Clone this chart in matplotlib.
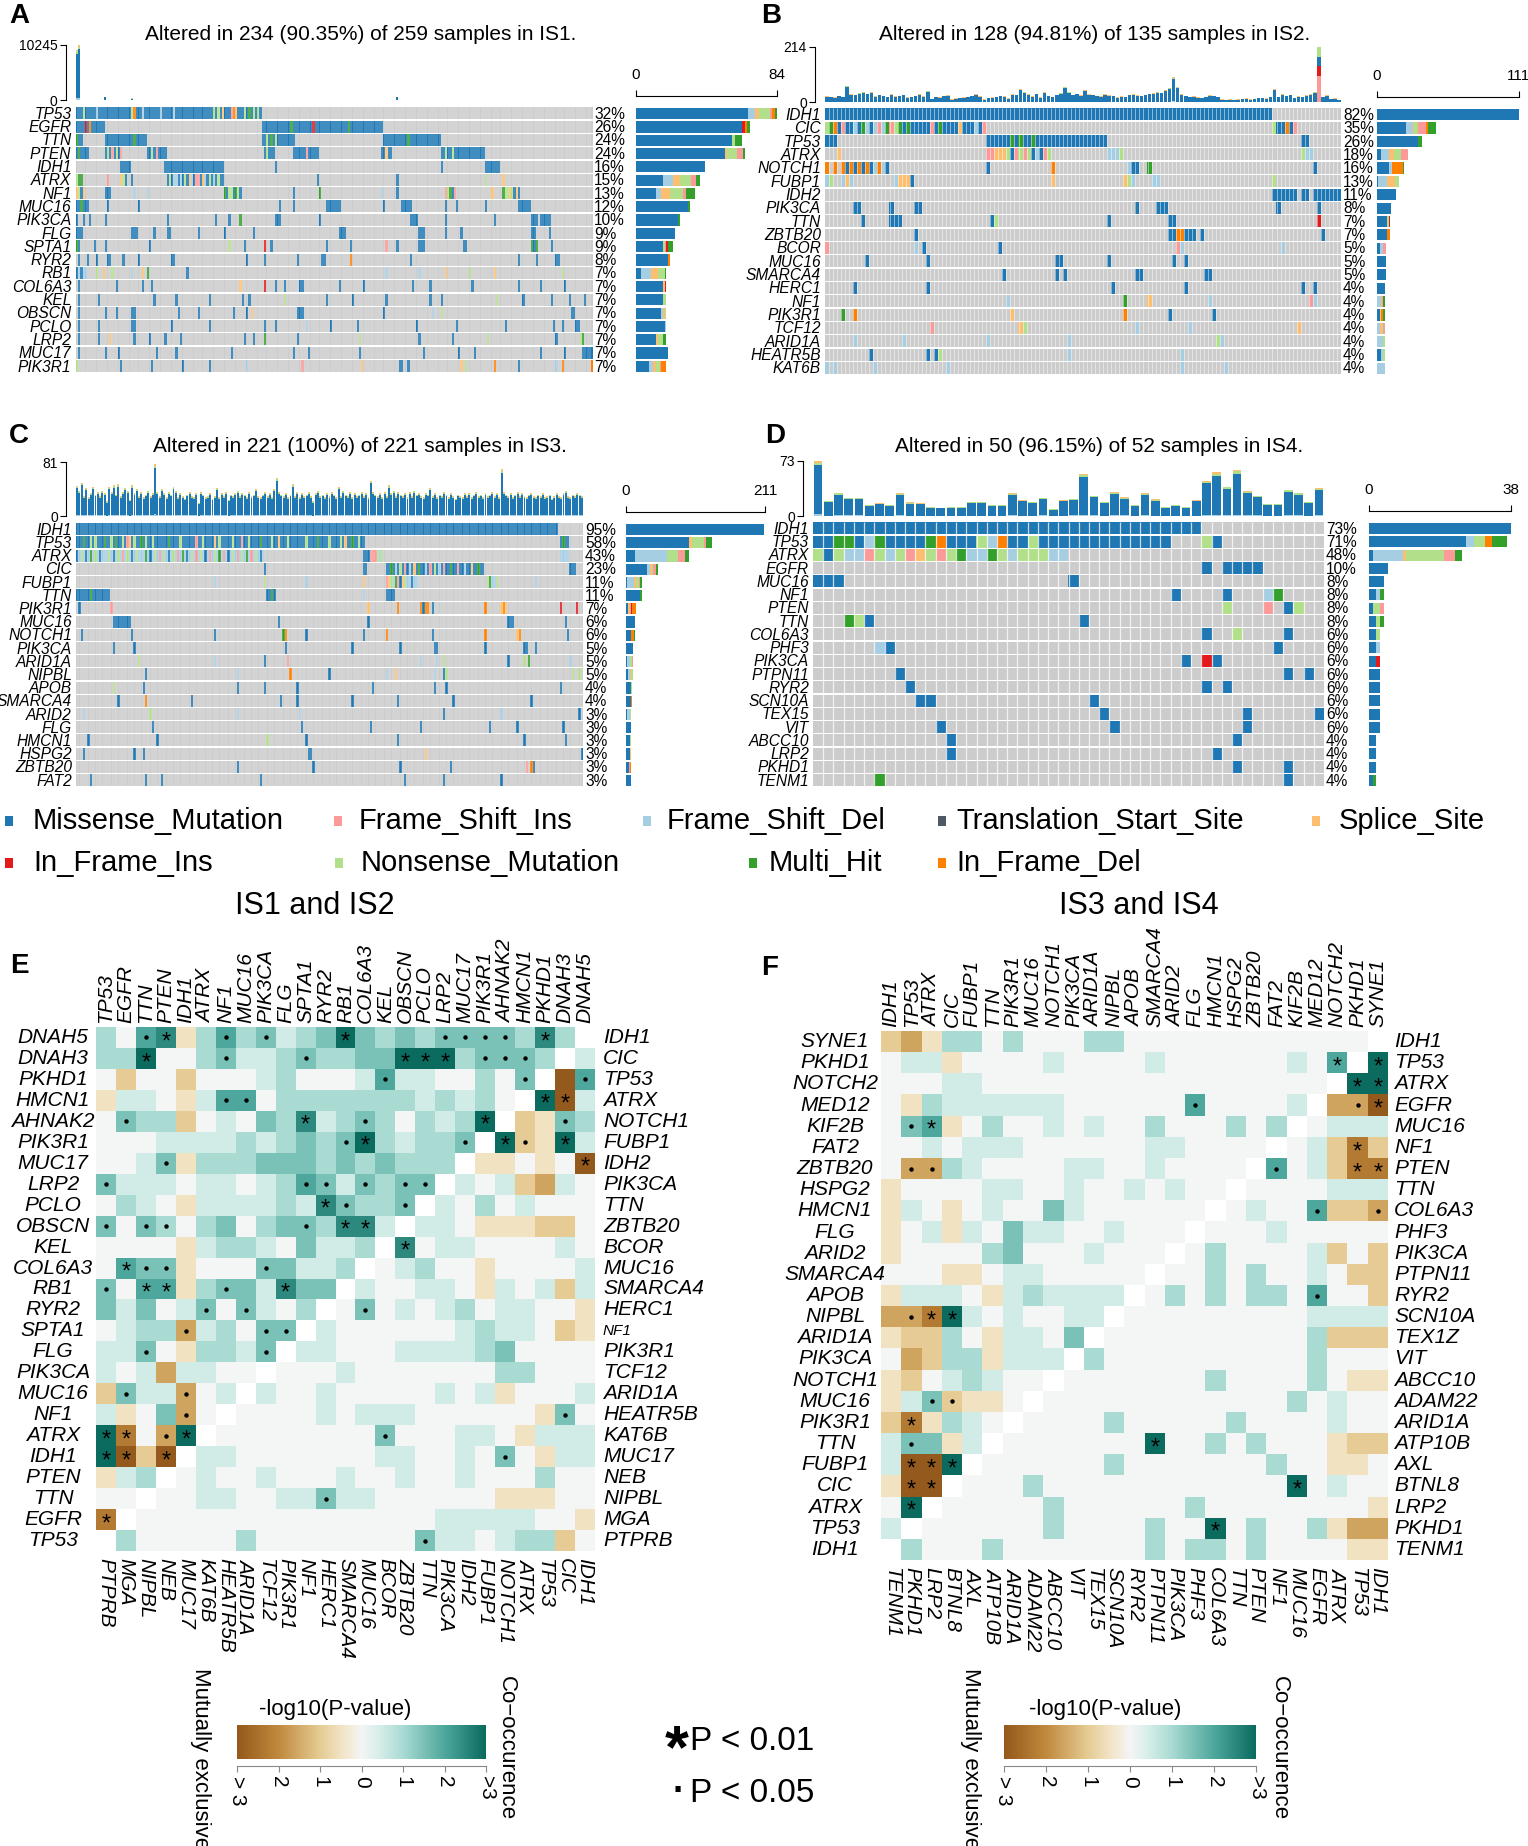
import re
import numpy as np
import matplotlib
matplotlib.use("Agg")
import matplotlib.pyplot as plt
from matplotlib import font_manager
from matplotlib.colors import ListedColormap, LinearSegmentedColormap
from matplotlib.patches import Rectangle
from matplotlib.transforms import offset_copy

plt.rcParams['font.family'] = ['Liberation Sans', 'DejaVu Sans']
try:
    font_manager.findfont(font_manager.FontProperties(family='Liberation Sans Narrow'),
                          fallback_to_default=False)
    LAB_FAMILY, LAB_SIZE, PCT_SIZE = ['Liberation Sans Narrow', 'Liberation Sans'], 13, 13
except Exception:
    LAB_FAMILY, LAB_SIZE, PCT_SIZE = ['Liberation Sans', 'DejaVu Sans'], 11.2, 11.2

# ---------------------------------------------------------------- data
TYPES = {'M': ('Missense_Mutation', '#1F78B4'), 'I': ('Frame_Shift_Ins', '#FB9A99'),
         'D': ('Frame_Shift_Del', '#A6CEE3'), 'T': ('Translation_Start_Site', '#4F5966'),
         'S': ('Splice_Site', '#FDBF6F'), 'N': ('In_Frame_Ins', '#E31A1C'),
         'X': ('Nonsense_Mutation', '#B2DF8A'), 'H': ('Multi_Hit', '#33A02C'),
         'F': ('In_Frame_Del', '#FF7F00')}
CODES = ['M', 'D', 'S', 'X', 'I', 'N', 'F', 'T', 'H']
GREY = '#CCCCCC'

# ---- panel A (IS1)
A_genes = ['TP53', 'EGFR', 'TTN', 'PTEN', 'IDH1', 'ATRX', 'NF1', 'MUC16', 'PIK3CA', 'FLG',
           'SPTA1', 'RYR2', 'RB1', 'COL6A3', 'KEL', 'OBSCN', 'PCLO', 'LRP2', 'MUC17', 'PIK3R1']
A_pct = [32, 26, 24, 24, 16, 15, 13, 12, 10, 9, 9, 8, 7, 7, 7, 7, 7, 7, 7, 7]
A_n = 234
A_events = {
    'TP53': "0-83M 3X 9D 25X 26F 30D 38D 44D 62X 64X 66S 70I 71F 72S 76X 78H 80X 82X",
    'EGFR': "0-12M 4N 6F 84-138M 97H 107N 123H",
    'TTN': "0-2M 0H 13-31M 26H 84-98M 86X 88H 90X 139-164M 150H",
    'PTEN': "0-5M 1H 13-20M 14X 16I 18X 20I 32-40M 34X 36I 85-89M 86X 98-109M 104I 138-142M 140S 165-184M 167X 170X",
    'IDH1': "20-24M 40-66M 90M 165M 185-191M",
    'ATRX': "0-2H 0X 14I 20S 21X 22M 25M 41-66M 42X 44D 45D 47D 49X 51S 52D 54I 55I 57S 58D 60X 62D 64X 109M 145M 185X 193S",
    'NF1': "0S 1X 2M 3S 13-15M 26D 32D 67H 68M 69X 70X 71M 72H 73X 74M 98M 110H 138D 145M 167I 168X 169H 170M 171I 188S 193H 194X 195X 196S 197X 198M 199S 200M",
    'MUC16': "0-5M 2H 14M 28M 92M 98M 113-119M 139M 147-151M 167M 172M 185M 200-205M",
    'PIK3CA': "0M 3M 6M 13M 41M 63M 69M 74H 90-92M 110M 151-154M 167M 189M 206-208M 210-214M",
    'FLG': "0-2M 25-27M 35M 41-42M 55M 67M 80M 119-121M 155-157M 167M 174M 206-207M 214M",
    'SPTA1': "0H 1M 8M 13M 33M 69X 76M 85N 88M 113M 124M 140I 145M 155-157M 175-176M 206H 207M 208H 215M",
    'RYR2': "1M 5M 9M 14-15M 21M 28M 43-44M 77M 85M 100M 111-112M 124F 151M 200M 208M 217-218M",
    'RB1': "0-4D 0M 2M 9X 12S 16X 25D 30S 32H 50M 140D 155D 167S 178X 189S 220X",
    'COL6A3': "1M 18M 30M 34M 74S 85N 90M 94M 101-102M 119M 130M 152M 160M 179M 200M 210M 221M",
    'KEL': "1M 10M 35M 45M 60M 75M 78M 94X 113M 125M 140M 160M 165M 190X 202M 215M 223M 230M",
    'OBSCN': "1M 13M 18M 25-26M 46M 55M 71M 77M 79S 100-102M 139M 161D 165X 224-225M",
    'PCLO': "1M 10M 25-26M 43M 60M 85M 90M 104D 115M 127M 154M 172M 194M 216M 220M 226-227M",
    'LRP2': "1M 10M 15S 26M 33M 40M 47M 76M 80M 85H 100M 128X 155M 170M 186X 217M 228X 229H",
    'MUC17': "1M 13M 19M 36M 45M 70M 98M 105M 128M 157M 173M 180M 210M 221M 229-233M",
    'PIK3R1': "0X 20M 34M 48M 60M 77D 102I 129S 146-147M 150M 174S 176X 189F 200M 217D 220F 233F",
}
A_tmb_peaks = {0: 9400, 1: 10245, 13: 520, 25: 300, 85: 90, 107: 80, 145: 520}
A_tmb_typical = 40
A_tmb = [A_tmb_peaks.get(i, A_tmb_typical) for i in range(A_n)]

# ---- panel B (IS2)
B_genes = ['IDH1', 'CIC', 'TP53', 'ATRX', 'NOTCH1', 'FUBP1', 'IDH2', 'PIK3CA', 'TTN', 'ZBTB20',
           'BCOR', 'MUC16', 'SMARCA4', 'HERC1', 'NF1', 'PIK3R1', 'TCF12', 'ARID1A', 'HEATR5B', 'KAT6B']
B_pct = [82, 35, 26, 18, 16, 13, 11, 8, 7, 7, 5, 5, 5, 4, 4, 4, 4, 4, 4, 4]
B_n = 128
B_events = {
    'IDH1': "0-110M",
    'CIC': "0X 1H 2F 3M 4I 5M 6M 7D 8M 9H 10D 11M 12D 13I 14D 15H 16I 17X 18H 19M 20H 21-25M 26I 27M 28H 29-32M 33S 34-36M 37D 38M 39I 111X 112M 113M 114F 115M 116I",
    'TP53': "0-2M 40-69M 46H 48H 51H 118-119M",
    'ATRX': "3S 40I 41I 42S 43S 44S 45X 46M 47I 48X 49I 50X 51M 52D 53M 54I 55X 70D 71D 72D 73X 118X 119D 120D",
    'NOTCH1': "0F 2F 4F 5M 6F 7M 8F 9M 10F 11M 12D 13F 14D 15M 40M 56F 75D 76M 77M 80H 121M",
    'FUBP1': "0D 1X 4D 5S 6D 17D 18S 19S 20S 21M 56S 74S 75X 76D 81D 82D 111X",
    'IDH2': "111-116M 118-119M 121-127M",
    'PIK3CA': "7-8M 16M 22-23M 77M 82-84M 112M 122M",
    'TTN': "9M 16-18M 41M 42X 70M 85-86M 122N",
    'ZBTB20': "22M 85M 86M 87F 88F 89-90M 91M 93M 123M",
    'BCOR': "0I 22D 24M 43M 87I 88D 113D",
    'MUC16': "10M 25M 57-58M 70M 86M 89M",
    'SMARCA4': "44M 57M 59M 77-78M 94-95M",
    'HERC1': "7M 25M 71M 89M 118M 121M",
    'NF1': "45D 74H 80S 95D 120I 121D",
    'PIK3R1': "4H 7F 46S 74F 85M 96M",
    'TCF12': "26I 48S 49X 77D 90D 117S",
    'ARID1A': "7D 19D 40D 60D 97X 98D",
    'HEATR5B': "11M 25M 27M 28X 60D 88D",
    'KAT6B': "0D 2D 12D 30D 88D 99D",
}
B_tmb = [22, 20, 18, 25, 20, 63, 30, 28, 35, 40,
         32, 38, 22, 28, 25, 20, 30, 22, 25, 28,
         18, 20, 24, 30, 22, 43, 12, 20, 18, 24,
         26, 10, 14, 16, 18, 20, 25, 30, 22, 10,
         15, 18, 20, 24, 22, 14, 30, 28, 50, 40,
         30, 22, 32, 18, 38, 24, 20, 28, 35, 59,
         40, 28, 32, 26, 45, 30, 28, 25, 22, 30,
         26, 24, 18, 22, 20, 28, 30, 26, 24, 28,
         32, 34, 40, 36, 45, 55, 98, 60, 30, 25,
         20, 22, 18, 15, 20, 26, 24, 20, 10, 8,
         10, 9, 10, 12, 14, 10, 12, 15, 16, 14,
         20, 50, 20, 30, 25, 28, 16, 22, 20, 26,
         30, 40, 214, 20, 26, 12, 14, 8]
B_tmb_special = {122: [('I', 102), ('N', 40), ('M', 33), ('X', 39)]}

# ---- panel C (IS3)
C_genes = ['IDH1', 'TP53', 'ATRX', 'CIC', 'FUBP1', 'TTN', 'PIK3R1', 'MUC16', 'NOTCH1', 'PIK3CA',
           'ARID1A', 'NIPBL', 'APOB', 'SMARCA4', 'ARID2', 'FLG', 'HMCN1', 'HSPG2', 'ZBTB20', 'FAT2']
C_pct = [95, 58, 43, 23, 11, 11, 7, 6, 6, 5, 5, 5, 4, 4, 3, 3, 3, 3, 3, 3]
C_n = 221
C_events = {
    'IDH1': "0-209M",
    'TP53': "0-125M 3H 6X 8X 12H 15X 17H 20X 22I 23S 25X 28H 30X 33X 40H 45X 52I 55X 60S 62X 68X 72I 75X 80H 85X 88S 92X 100X 105H 110X 115X 117S 120H 123X 211-214M 212H",
    'ATRX': "0-81D 0M 2X 4M 6H 8X 10M 12D 14X 16M 18X 20I 22X 24M 26X 30H 32M 34X 36I 38X 40M 42X 44I 46H 48M 50X 52I 54X 56M 58I 60X 62H 64I 66M 68X 70I 72X 74H 76I 78X 80M 125-127M 128I 129I 130I 131X 132D 133X 211-214D",
    'CIC': "82M 125-126M 135-177M 137H 139D 141X 143I 145D 147S 149H 152D 154I 156X 158D 160I 163H 166I 169D 172S 175H 215-217M",
    'FUBP1': "60D 82X 100D 125S 135I 136S 137X 138D 139H 140I 141M 142S 143X 144D 145D 146M 147D 148D 179X 180H 181D 182D 183X 200D",
    'TTN': "0-14M 6H 83-86M 85H 125D 135-138M",
    'PIK3R1': "1M 15I 127S 140F 150F 151M 152F 153F 155M 178F 185S 186F 187S 211N 218N",
    'MUC16': "16-23M 88M 127M 188-190M 213M",
    'NOTCH1': "2M 24M 60M 90H 91F 100M 125M 135F 155M 178F 192S 193F 214M",
    'PIK3CA': "16M 25M 91M 120M 141M 156-157M 178M 195M 196M 200M",
    'ARID1A': "27X 60D 82M 92I 150D 157D 160X 188M 195X 197H 215D",
    'NIPBL': "30M 70D 93F 110M 135D 139S 156D 160M 161X 216X 219X",
    'APOB': "16X 29M 70M 82M 96M 129M 156M 161M 211M",
    'SMARCA4': "18M 30F 50M 89M 96M 120M 140M 164M 198M",
    'ARID2': "3D 32X 70D 97D 160M 185D 219M",
    'FLG': "33M 98M 128M 150M 180M 192M 212M",
    'HMCN1': "5M 35M 83X 100M 140M 195M 213M",
    'HSPG2': "3M 25M 29M 101-102M 152S 220M",
    'ZBTB20': "70M 103M 141M 163M 196I 198F 199M",
    'FAT2': "6M 30M 37M 80M 143M 160M 185M",
}
C_tmb = [45, 38, 50, 30, 42, 28, 35, 44, 32, 36,
         30, 38, 34, 22, 44, 36, 46, 32, 48, 30,
         36, 42, 38, 24, 46, 34, 40, 30, 36, 28,
         32, 38, 30, 34, 78, 36, 30, 40, 34, 28,
         36, 32, 44, 38, 28, 34, 30, 26, 32, 36,
         30, 28, 34, 20, 36, 32, 28, 30, 34, 26,
         30, 42, 28, 34, 30, 36, 24, 32, 30, 34,
         38, 30, 34, 32, 28, 36, 30, 32, 40, 30,
         28, 32, 36, 30, 34, 28, 40, 57, 36, 32,
         30, 34, 28, 32, 48, 30, 36, 28, 34, 30,
         32, 36, 30, 22, 34, 38, 30, 32, 28, 34,
         30, 36, 32, 28, 44, 30, 38, 32, 30, 36,
         28, 34, 30, 32, 36, 30, 34, 28, 53, 36,
         32, 30, 34, 28, 36, 30, 46, 34, 38, 30,
         36, 32, 30, 34, 28, 36, 30, 38, 32, 34,
         30, 28, 34, 32, 42, 30, 34, 28, 32, 30,
         36, 32, 28, 34, 30, 26, 32, 30, 28, 34,
         30, 34, 28, 32, 36, 30, 32, 28, 34, 30,
         32, 36, 30, 34, 28, 70, 36, 32, 30, 34,
         28, 32, 36, 30, 34, 30, 28, 32, 34, 30,
         28, 32, 30, 34, 28, 30, 32, 26, 30, 34,
         30, 28, 34, 38, 30, 28, 32, 30, 34, 32,
         30]

# ---- panel D (IS4)
D_genes = ['IDH1', 'TP53', 'ATRX', 'EGFR', 'MUC16', 'NF1', 'PTEN', 'TTN', 'COL6A3', 'PHF3',
           'PIK3CA', 'PTPN11', 'RYR2', 'SCN10A', 'TEX15', 'VIT', 'ABCC10', 'LRP2', 'PKHD1', 'TENM1']
D_pct = [73, 71, 48, 10, 8, 8, 8, 8, 6, 6, 6, 6, 6, 6, 6, 6, 4, 4, 4, 4]
D_n = 50
D_events = {
    'IDH1': "0-37M",
    'TP53': "0-34M 2H 3H 5D 6H 11H 12F 16X 17D 18F 21X 38X 39M",
    'ATRX': "0X 1M 2X 3D 4D 5I 6X 7D 8X 9I 10S 11X 12I 13X 14H 15D 16D 17H 18X 19D 20X 21X 22X 23D 24D",
    'EGFR': "38M 40-43M",
    'MUC16': "0-2M 25M",
    'NF1': "35M 40M 44D 45H",
    'PTEN': "40X 44I 46M 47X",
    'TTN': "3H 4X 5M 26M",
    'COL6A3': "38M 41X 46M",
    'PHF3': "6D 7M 45M",
    'PIK3CA': "36M 38N 39M",
    'PTPN11': "8M 46M 48M",
    'RYR2': "9M 38M 40M",
    'SCN10A': "10-11M 27M",
    'TEX15': "28M 42M 49M",
    'VIT': "12M 29M 42M",
    'ABCC10': "13M 41M",
    'LRP2': "13M 39M",
    'PKHD1': "41M 46M",
    'TENM1': "6H 46M",
}
D_tmb = [73, 20, 31, 24, 24, 15, 17, 15, 30, 18,
         17, 12, 11, 12, 12, 19, 19, 15, 15, 30,
         21, 19, 24, 9, 21, 23, 56, 27, 19, 32,
         25, 15, 30, 22, 12, 15, 12, 21, 47, 58,
         39, 61, 33, 27, 16, 16, 35, 31, 19, 37]

TMB_MIX = [('D', 0.03), ('M', 0.89), ('X', 0.05), ('S', 0.03)]

# ---- interaction heatmaps (E: IS1 upper-left / IS2 lower-right; F: IS3 / IS4)
E_left = ['DNAH5', 'DNAH3', 'PKHD1', 'HMCN1', 'AHNAK2', 'PIK3R1', 'MUC17', 'LRP2', 'PCLO', 'OBSCN',
          'KEL', 'COL6A3', 'RB1', 'RYR2', 'SPTA1', 'FLG', 'PIK3CA', 'MUC16', 'NF1', 'ATRX',
          'IDH1', 'PTEN', 'TTN', 'EGFR', 'TP53']
E_top = ['TP53', 'EGFR', 'TTN', 'PTEN', 'IDH1', 'ATRX', 'NF1', 'MUC16', 'PIK3CA', 'FLG',
         'SPTA1', 'RYR2', 'RB1', 'COL6A3', 'KEL', 'OBSCN', 'PCLO', 'LRP2', 'MUC17', 'PIK3R1',
         'AHNAK2', 'HMCN1', 'PKHD1', 'DNAH3', 'DNAH5']
E_right = ['IDH1', 'CIC', 'TP53', 'ATRX', 'NOTCH1', 'FUBP1', 'IDH2', 'PIK3CA', 'TTN', 'ZBTB20',
           'BCOR', 'MUC16', 'SMARCA4', 'HERC1', 'NF1', 'PIK3R1', 'TCF12', 'ARID1A', 'HEATR5B', 'KAT6B',
           'MUC17', 'NEB', 'NIPBL', 'MGA', 'PTPRB']
E_bottom = ['PTPRB', 'MGA', 'NIPBL', 'NEB', 'MUC17', 'KAT6B', 'HEATR5B', 'ARID1A', 'TCF12', 'PIK3R1',
            'NF1', 'HERC1', 'SMARCA4', 'MUC16', 'BCOR', 'ZBTB20', 'TTN', 'PIK3CA', 'IDH2', 'FUBP1',
            'NOTCH1', 'ATRX', 'TP53', 'CIC', 'IDH1']
# cell level: . none, W diagonal, 1..6 co-occurrence, a..e mutual exclusivity; suffix * p<0.01, o p<0.05
E_cells = [
    "2 . 4o 5* a 2 4o 2 3o 1 2 3 6* 3 2 3 2 3o 3o 3o 3o 2 5* 2 W",
    "2 2 6* . . 2 3o 1 1 2 3o 2 2 3 3 6* 6* 6* 2 3o 3o 3o 2 W 1",
    ". b . . b . . . 1 2 . . . 1 4o 1 1 . . 2 . 3o W e 4o",
    "a 1 1 . a 1 4o 4o . 2 2 2 2 2 2 2 1 2 1 2 . W 6* e* 1",
    ". 3o 2 2 b . 1 . 3 2 5* 1 2 3o 2 . 2 1 2 6* W b a 3o 2",
    ". . . 1 1 1 1 2 1 2 3 2 3o 6* 2 1 2 2 3o W 6* bo a 6* 1",
    ". . 1 3o a 2 2 2 3 3 3 2 3 2 3 2 2 2 W a a . a . e*",
    "3o 1 1 1 . 1 1 . 1 2 4o 3o 1 3o 2 3o 3o W 1 . 1 b c 1 .",
    ". 2 1 . a 1 1 1 1 2 1 5* 3o 2 2 3o W 1 . 2 . 1 . . .",
    "3o . 3o 2o . 2 3 . 2 3 3o 2 5* 5* 1 W 1 1 . a a a b b .",
    ". . . . a 1 2 2 1 . 3 1 1 2 W 5* . 1 1 . . . . 1 .",
    ". 4* 3o 3o a . . . 3o 3 1 1 2 W . 1 2 . . a . . . . 1",
    "3o . 4* 4* a 2 3o 3 1 5* 3 3 W 1 . . 1 1 . a 1 . 1 b 1",
    "3 1 3 . 1 3o . 3o 1 . 2 W . 3o . 1 . 1 2 . 1 1 . . a",
    ". 1 2 2 co 1 2 . 3o 3o W 1 . . . . . . 1 2 1 1 . b a",
    "1 1 3o . a 2 2 1 3o W 1 1 . . . 1 1 1 1 2 3 . . . .",
    "1 . 1 c 1 1 . . W . . . 1 . . . . . . . 2 2 . . .",
    "b 3o 1 1 co . 1 W 1 . . 1 . . . . . 1 . 1 a . . . 1",
    "1 a . 3 co . W . . . . 1 . 1 1 1 . . . . . . a 3o .",
    "6* d* . co 6* W . . . . . . . . 3o . . . 1 1 . a 1 1 1",
    "6* e* b e* W 1 1 . . . . . . . 1 1 . . 1 . 3o . a 1 1",
    "a 1 2 W . 1 . . 1 . . . 1 . . 1 . . 1 . . . 2 . .",
    ". . W . . 1 1 . . 1 1 3o 1 1 . . . . . . a a a . .",
    "d* W . . . . . . . . . . . . . . . 1 1 1 1 1 . . a",
    "W 2 . . . . . 2 . . . . . . . . 3o 1 1 . 1 2 2 b .",
]
F_left = ['SYNE1', 'PKHD1', 'NOTCH2', 'MED12', 'KIF2B', 'FAT2', 'ZBTB20', 'HSPG2', 'HMCN1', 'FLG',
          'ARID2', 'SMARCA4', 'APOB', 'NIPBL', 'ARID1A', 'PIK3CA', 'NOTCH1', 'MUC16', 'PIK3R1', 'TTN',
          'FUBP1', 'CIC', 'ATRX', 'TP53', 'IDH1']
F_top = ['IDH1', 'TP53', 'ATRX', 'CIC', 'FUBP1', 'TTN', 'PIK3R1', 'MUC16', 'NOTCH1', 'PIK3CA',
         'ARID1A', 'NIPBL', 'APOB', 'SMARCA4', 'ARID2', 'FLG', 'HMCN1', 'HSPG2', 'ZBTB20', 'FAT2',
         'KIF2B', 'MED12', 'NOTCH2', 'PKHD1', 'SYNE1']
F_right = ['IDH1', 'TP53', 'ATRX', 'EGFR', 'MUC16', 'NF1', 'PTEN', 'TTN', 'COL6A3', 'PHF3',
           'PIK3CA', 'PTPN11', 'RYR2', 'SCN10A', 'TEX1Z', 'VIT', 'ABCC10', 'ADAM22', 'ARID1A', 'ATP10B',
           'AXL', 'BTNL8', 'LRP2', 'PKHD1', 'TENM1']
F_bottom = ['TENM1', 'PKHD1', 'LRP2', 'BTNL8', 'AXL', 'ATP10B', 'ARID1A', 'ADAM22', 'ABCC10', 'VIT',
            'TEX15', 'SCN10A', 'RYR2', 'PTPN11', 'PIK3CA', 'PHF3', 'COL6A3', 'TTN', 'PTEN', 'NF1',
            'MUC16', 'EGFR', 'ATRX', 'TP53', 'IDH1']
F_cells = [
    "b c a 2 2 . 2 . . . 2 2 . . . . . . . . . . . . W",
    ". 1 1 a . . . . 1 . . . . 1 . . . . . . 1 . 4* W 6*",
    ". . . 1 1 . . . . . . . . . . . . . . . . . W 6* 6*",
    ". a 2 1 1 1 1 1 1 . . . . . . 4o . . . . 1 W c co e*",
    ". 3o 4* a . 2 . . 1 . 1 . . 2 . . . 2 . 2 W . 1 1 1",
    ". . 1 . 1 1 1 . . . . . . 1 1 . . . . W . 1 b d* b",
    ". co co 2 1 . . . . 1 1 . . 1 . . . . W 4o . 1 b d* d*",
    "a . . . . 1 1 . . 1 . . 1 . 1 . . W . . . . 1 1 1",
    "a 1 . a . 1 . . 3 1 . . . . . . W . 1 . . 4o b b co",
    "a . 1 a 1 . 3 1 1 . . 1 . . . W . . . 1 . . . . .",
    "a . . . . 2 3 . . . 1 . . . W . 2 . . . . 1 b . b",
    ". . . a a . 1 1 . . . . . W . . 2 . 2 . . 1 . b b",
    "a 1 1 1 . a 1 2 1 1 1 1 W . 2 . 2 . 2 2 . 4o . . b",
    "c co d* 6* 1 . 1 . . 1 1 W . . . . . . . . . 1 1 1 1",
    "a b b 2 . a 1 1 . 3 W . . . . . . . . . . 2 b b b",
    ". c b 2 2 a 1 1 1 W 2 . . . . . . . . . . 2 . . .",
    "a b . 1 2 1 . . W . . . . . . . 2 . . . . 2 . a a",
    "a 1 3o bo a a . W . . . . . . . . . . . . 2 . 1 . .",
    "b d* a 2 1 . W . . . . 2 . . . . . 2 . . . . 1 . .",
    "1 3o 3 a 1 W . . . . . . . 6* . . 2 . 2 . . . a b b",
    "1 e* e* 6* W . . . . . . 2 . . . . . . . 2 . . a a .",
    "a e* e* W . . . 2 . . . . . . . . . . . . 6* . 1 . .",
    ". 6* W . . . . . 2 . . . . . . 2 . . . . . . . . a",
    "1 W . . . . . . 2 . . . . 2 . . 6* . 2 . . 2 a c c",
    "W 2 . . . 2 . . . . . . . 2 . 2 2 . 2 . . . . a a",
]
LEVEL = {'.': 0.0, 'W': np.nan, '1': 0.5, '2': 1.0, '3': 1.5, '4': 2.0, '5': 2.5, '6': 3.0,
         'a': -0.5, 'b': -1.0, 'c': -1.6, 'd': -2.3, 'e': -3.0}
CBAR_TICKS = [-3, -2, -1, 0, 1, 2, 3]
CBAR_LABELS = ['> 3', '2', '1', '0', '1', '2', '>3']

# ---------------------------------------------------------------- figure
W, H = 1528, 1846
fig = plt.figure(figsize=(W / 100, H / 100), dpi=100)


def add_ax(x0, y0, x1, y1):
    return fig.add_axes([x0 / W, 1 - y1 / H, (x1 - x0) / W, (y1 - y0) / H])


def ftext(x, y, s, **kw):
    return fig.text(x / W, 1 - y / H, s, **kw)


def parse_events(s, n):
    row = np.zeros(n, int)
    for a, b, t in re.findall(r'(\d+)(?:-(\d+))?([A-Z])', s):
        a = int(a)
        b = int(b) if b else a
        row[a:b + 1] = CODES.index(t) + 1
    return row


onco_cmap = ListedColormap([GREY] + [TYPES[c][1] for c in CODES])


def oncoplot(genes, events, pct, n, tmb, tmb_max, bar_max, box, top_y, bar_x, sep_lw, special=None):
    x0, y0, x1, y1 = box
    ng = len(genes)
    mat = np.array([parse_events(events[g], n) for g in genes])
    ax = add_ax(x0, y0, x1, y1)
    for i in range(ng):
        ax.imshow(mat[i:i + 1], cmap=onco_cmap, vmin=-0.5, vmax=len(CODES) + 0.5,
                  extent=[0, n, i + 0.93, i + 0.07], aspect='auto', interpolation='nearest')
    ax.vlines(np.arange(1, n), 0, ng, colors='white', linewidth=sep_lw, alpha=0.75)
    ax.set_xlim(0, n)
    ax.set_ylim(ng, 0)
    ax.axis('off')
    tl = offset_copy(ax.get_yaxis_transform(), fig=fig, x=-4, y=0, units='dots')
    tr = offset_copy(ax.get_yaxis_transform(), fig=fig, x=2, y=0, units='dots')
    for i, g in enumerate(genes):
        ax.text(0, i + 0.55, g, transform=tl, ha='right', va='center', style='italic',
                fontsize=LAB_SIZE, family=LAB_FAMILY)
        ax.text(1, i + 0.55, f'{pct[i]}%', transform=tr, ha='left', va='center',
                fontsize=PCT_SIZE, family=LAB_FAMILY)

    # top bars: mutations per sample
    axt = add_ax(x0, top_y[0], x1, top_y[1])
    xs = np.arange(n) + 0.5
    vals = np.array(tmb, float)
    if special:
        for k in special:
            vals[k] = 0
    bottom = np.zeros(n)
    for c, frac in TMB_MIX:
        axt.bar(xs, vals * frac, bottom=bottom, width=0.85, color=TYPES[c][1], linewidth=0)
        bottom += vals * frac
    if special:
        for k, comp in special.items():
            b = 0
            for c, v in comp:
                axt.bar(k + 0.5, v, bottom=b, width=0.85, color=TYPES[c][1], linewidth=0)
                b += v
    axt.set_xlim(0, n)
    axt.set_ylim(0, tmb_max)
    for s in ['top', 'right', 'bottom']:
        axt.spines[s].set_visible(False)
    axt.spines['left'].set_position(('outward', 7))
    axt.spines['left'].set_linewidth(0.8)
    axt.set_xticks([])
    axt.set_yticks([0, tmb_max])
    axt.set_yticklabels(['0', str(tmb_max)], family=LAB_FAMILY)
    axt.tick_params(axis='y', length=4, width=0.8, pad=2, labelsize=10)

    # right bars: mutations per gene, by class
    axr = add_ax(bar_x[0], y0, bar_x[1], y1)
    for i in range(ng):
        left = 0
        for k, c in enumerate(CODES):
            cnt = int((mat[i] == k + 1).sum())
            if cnt:
                axr.barh(i + 0.5, cnt, left=left, height=0.84, color=TYPES[c][1], linewidth=0)
                left += cnt
    axr.set_ylim(ng, 0)
    axr.set_xlim(0, bar_max)
    for s in ['left', 'right', 'bottom']:
        axr.spines[s].set_visible(False)
    axr.spines['top'].set_position(('outward', 8))
    axr.spines['top'].set_linewidth(0.8)
    axr.set_yticks([])
    axr.xaxis.set_ticks_position('top')
    axr.set_xticks([0, bar_max])
    axr.set_xticklabels(['0', str(bar_max)], family=LAB_FAMILY)
    axr.tick_params(axis='x', length=4, width=0.8, pad=6, labelsize=11)


oncoplot(A_genes, A_events, A_pct, A_n, A_tmb, 10245, 84,
         (75.5, 107, 592, 373), (45, 100), (636, 777), 0.3)
oncoplot(B_genes, B_events, B_pct, B_n, B_tmb, 214, 111,
         (825, 108, 1341, 375), (47, 102), (1377, 1519), 0.45, special=B_tmb_special)
oncoplot(C_genes, C_events, C_pct, C_n, C_tmb, 81, 211,
         (76, 523, 583, 787), (462, 516), (626, 765), 0.3)
oncoplot(D_genes, D_events, D_pct, D_n, D_tmb, 73, 38,
         (813, 522, 1324, 787), (461, 516), (1369, 1511), 0.9)

ftext(361, 34, 'Altered in 234 (90.35%) of 259 samples in IS1.', ha='center', va='center', fontsize=15)
ftext(1095, 34, 'Altered in 128 (94.81%) of 135 samples in IS2.', ha='center', va='center', fontsize=15)
ftext(360, 447, 'Altered in 221 (100%) of 221 samples in IS3.', ha='center', va='center', fontsize=15)
ftext(1099, 446, 'Altered in 50 (96.15%) of 52 samples in IS4.', ha='center', va='center', fontsize=15)

for lab, x, y in [('A', 19, 16), ('B', 771, 16), ('C', 19, 436), ('D', 775, 436), ('E', 19, 966), ('F', 770, 968)]:
    ftext(x, y, lab, ha='center', va='center', fontsize=20, fontweight='bold')

# legend of variant classes
legend_items = [('M', 9, 33, 821), ('I', 338, 359, 821), ('D', 647, 667, 821), ('T', 942, 956, 821),
                ('S', 1316, 1339, 821), ('N', 9, 33, 863), ('X', 339, 361, 863), ('H', 753, 769, 863),
                ('F', 942, 956, 863)]
for c, sx, tx, y in legend_items:
    fig.patches.append(Rectangle(((sx - 4) / W, 1 - (y + 5) / H), 8 / W, 10 / H,
                                 transform=fig.transFigure, color=TYPES[c][1], linewidth=0))
    ftext(tx, y, TYPES[c][0], ha='left', va='center', fontsize=21)

ftext(315, 906, 'IS1 and IS2', ha='center', va='center', fontsize=22)
ftext(1139, 906, 'IS3 and IS4', ha='center', va='center', fontsize=22)

# ---------------------------------------------------------------- heatmaps
stops = [(-3, '#94591c'), (-2, '#c08a3e'), (-1, '#e6cc94'), (-0.4, '#f3e7cc'), (0, '#f5f5f5'),
         (0.4, '#d9efeb'), (1, '#a9dbd3'), (2, '#4fa89d'), (3, '#0b6b5f')]
hcmap = LinearSegmentedColormap.from_list('brbg_like', [((v + 3) / 6, c) for v, c in stops])
hcmap.set_bad('white')


def heatmap(box, cells, left, top, right, bottom, left_cx, right_x):
    x0, y0, x1, y1 = box
    val = np.zeros((25, 25))
    sig = []
    for i, r in enumerate(cells):
        toks = (r.split() + ['.'] * 25)[:25]
        for j, t in enumerate(toks):
            val[i, j] = LEVEL[t[0]]
            if len(t) > 1:
                sig.append((i, j, t[1]))
    ax = add_ax(x0, y0, x1, y1)
    ax.pcolormesh(np.arange(26), np.arange(26), np.ma.masked_invalid(val), cmap=hcmap, vmin=-3, vmax=3)
    ax.set_xlim(0, 25)
    ax.set_ylim(25, 0)
    ax.axis('off')
    for i, j, s in sig:
        if s == '*':
            ax.text(j + 0.5, i + 0.72, '*', ha='center', va='center', fontsize=17)
        else:
            ax.plot(j + 0.5, i + 0.5, 'o', ms=2.2, color='black')
    fl = (left_cx - x0) / (x1 - x0)
    fr = (right_x - x0) / (x1 - x0)
    tf = ax.get_yaxis_transform()
    for i in range(25):
        ax.text(fl, i + 0.5, left[i], transform=tf, ha='center', va='center', style='italic', fontsize=15)
        fs = 11 if (right is E_right and right[i] == 'NF1') else 15
        ax.text(fr, i + 0.5, right[i], transform=tf, ha='left', va='center', style='italic', fontsize=fs)
        ax.text(i + 0.5, -0.2, top[i], rotation=90, ha='center', va='bottom', style='italic', fontsize=15)
        ax.text(i + 0.5, 25.35, bottom[i], rotation=270, ha='center', va='top', style='italic', fontsize=15)


heatmap((96, 1027, 595, 1551), E_cells, E_left, E_top, E_right, E_bottom, 53, 603)
heatmap((881, 1031, 1388, 1560), F_cells, F_left, F_top, F_right, F_bottom, 835, 1394)


def colorbar(x0, x1, title_x, me_x, co_x):
    axc = add_ax(x0, 1725, x1, 1759)
    axc.imshow(np.linspace(-3, 3, 256)[None, :], aspect='auto', cmap=hcmap, extent=[-3, 3, 0, 1])
    for s in ['top', 'left', 'right']:
        axc.spines[s].set_visible(False)
    axc.spines['bottom'].set_position(('outward', 5))
    axc.spines['bottom'].set_color('#888888')
    axc.set_yticks([])
    axc.set_xticks(CBAR_TICKS)
    axc.set_xticklabels(CBAR_LABELS, rotation=270, fontsize=15)
    axc.tick_params(axis='x', length=4, color='#888888', pad=3)
    ftext(title_x, 1709, '-log10(P-value)', ha='center', va='center', fontsize=16)
    ftext(me_x, 1668, 'Mutually exclusive', rotation=270, ha='center', va='top', fontsize=16)
    ftext(co_x, 1676, 'Co\u2212occurence', rotation=270, ha='center', va='top', fontsize=16)


colorbar(237, 486, 335, 200, 506)
colorbar(1004, 1256, 1105, 971, 1279)

ftext(677, 1752, '*', ha='center', va='center', fontsize=44, fontweight='bold')
ftext(690, 1741, 'P < 0.01', ha='left', va='center', fontsize=24)
ftext(679, 1792, '\u00b7', ha='center', va='center', fontsize=26, fontweight='bold')
ftext(690, 1793, 'P < 0.05', ha='left', va='center', fontsize=24)

fig.savefig('out.png', dpi=100)
